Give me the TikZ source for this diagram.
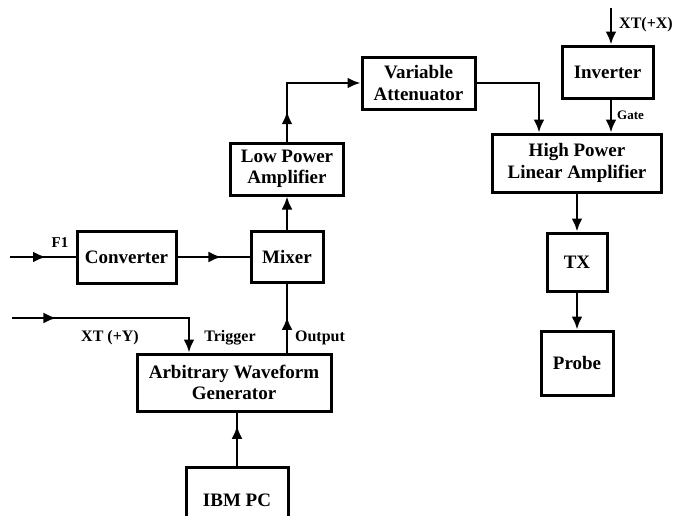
\documentclass[tikz,border=0pt]{standalone}
\usepackage{fontspec}
\setmainfont{Liberation Serif}
\usetikzlibrary{arrows.meta,decorations.markings}
\begin{document}
\begin{tikzpicture}[x=1pt,y=-1pt,
  blk/.style={draw, line width=3pt, align=center, inner sep=0pt, font=\fontsize{19}{21.5}\selectfont\bfseries},
  wire/.style={line width=2.8pt, -{Latex[length=13pt,width=11pt]}},
  plain/.style={line width=2.8pt},
  midarr/.style={postaction={decorate}, decoration={markings, mark=at position #1 with {\arrow{Latex[length=13pt,width=11pt]}}}},
  lbl/.style={font=\fontsize{16}{18}\selectfont\bfseries, inner sep=0pt},
]
\useasboundingbox (0,0) rectangle (676,515);
\clip (0,0) rectangle (676,515);
% blocks
\node[blk, minimum width=99pt, minimum height=52pt] (conv) at (126.5,257) {Converter};
\node[blk, minimum width=72pt, minimum height=51pt] (mixer) at (287,257) {Mixer};
\node[blk, minimum width=113pt, minimum height=52pt] (lpa) at (287,169) {Low Power\\Amplifier};
\node[blk, minimum width=113pt, minimum height=52pt] (va) at (418.5,83) {Variable\\Attenuator};
\node[blk, minimum width=91pt, minimum height=52pt] (inv) at (607.5,72) {Inverter};
\node[blk, minimum width=169pt, minimum height=58pt] (hpla) at (577,163) {High Power\\Linear Amplifier};
\node[blk, minimum width=60pt, minimum height=58pt] (tx) at (577,262) {TX};
\node[blk, minimum width=72pt, minimum height=64pt] (probe) at (577,363) {Probe};
\node[blk, minimum width=194pt, minimum height=57pt] (awg) at (234,382.5) {Arbitrary Waveform\\Generator};
\node[blk, minimum width=102pt, minimum height=66pt] (ibm) at (237,500) {IBM PC};
% coordinates
\coordinate (f1) at (10,257);
\coordinate (xty) at (12,318);
\coordinate (trig) at (189,318);
\coordinate (hx) at (539,0);
\coordinate (xtx) at (611,8);
% connectors
\draw[plain, midarr=0.55] (f1) -- (conv.west);
\draw[plain, midarr=0.61] (conv.east) -- (mixer.west);
\draw[wire, midarr=0.21] (xty) -- (trig) -- (trig |- awg.north);
\draw[plain, midarr=0.52] (awg.north -| mixer.south) -- (mixer.south);
\draw[plain, midarr=0.75] (ibm.north) -- (ibm.north |- awg.south);
\draw[wire] (mixer.north) -- (lpa.south);
\draw[wire, midarr=0.23] (lpa.north) |- (va.west);
\draw[wire] (va.east) -| (hx |- hpla.north);
\draw[wire] (xtx) -- (xtx |- inv.north);
\draw[wire] (inv.south -| xtx) -- (xtx |- hpla.north);
\draw[wire] (hpla.south) -- (tx.north);
\draw[wire] (tx.south) -- (probe.north);
% labels
\node[lbl, font=\fontsize{15}{17}\selectfont\bfseries] (f1l) at (60,243) {F1};
\node[lbl] (xtyl) at (110,338) {XT (+Y)};
\node[lbl] (trigl) at (230,338) {Trigger};
\node[lbl] (outl) at (320,338) {Output};
\node[lbl, anchor=west] (xtxl) at (619,25) {XT(+X)};
\node[lbl, anchor=west, font=\fontsize{13}{15}\selectfont\bfseries] (gatel) at (617,115) {Gate};
\end{tikzpicture}
\end{document}
